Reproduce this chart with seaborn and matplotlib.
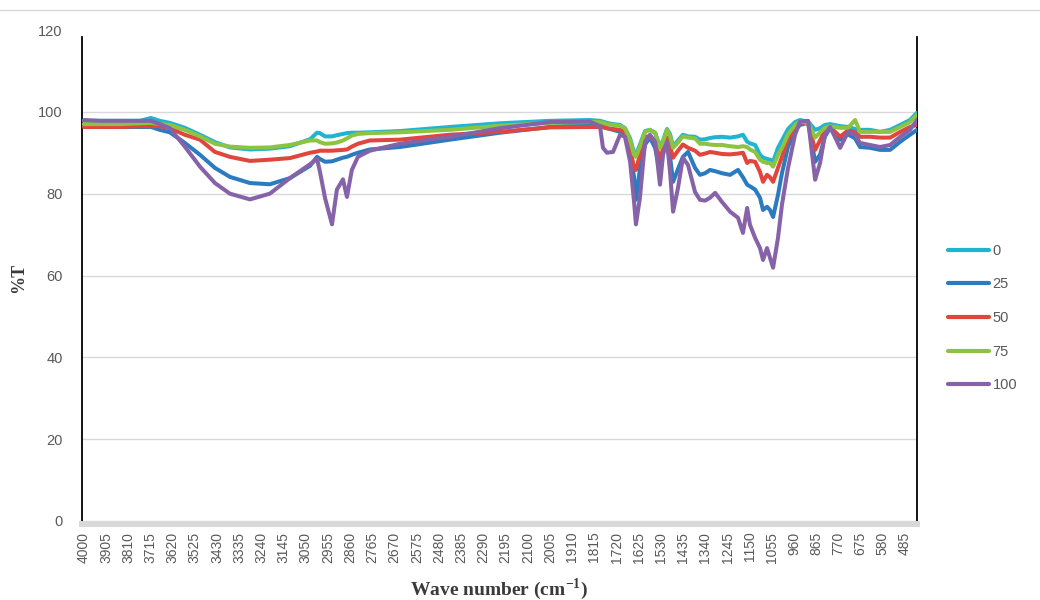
import matplotlib
matplotlib.use("Agg")
import matplotlib.pyplot as plt
from matplotlib.lines import Line2D
import pandas as pd
import seaborn as sns

# FTIR transmittance spectra (%T) for five blend ratios
wavenumber = [4000, 3932, 3846, 3760, 3713, 3675, 3632, 3568, 3503, 3439, 3375, 3289,
              3204, 3118, 3032, 3002, 2990, 2968, 2938, 2917, 2891, 2874, 2853, 2827,
              2776, 2647, 2433, 2219, 2005, 1834, 1791, 1778, 1761, 1735, 1705, 1684,
              1662, 1645, 1637, 1620, 1598, 1577, 1555, 1534, 1521, 1504, 1491, 1478,
              1457, 1436, 1414, 1384, 1363, 1341, 1320, 1298, 1269, 1234, 1200, 1179,
              1161, 1149, 1127, 1106, 1093, 1076, 1063, 1050, 1029, 1012, 986, 956,
              935, 900, 870, 849, 828, 806, 763, 729, 699, 678, 635, 592,
              549, 506, 464, 434]

t_0 = [97.8, 97.8, 97.8, 97.8, 98.5, 97.8, 97.3, 96.1, 94.4, 92.6, 91.3, 90.8,
       91.0, 91.6, 93.3, 94.9, 94.8, 94.0, 94.0, 94.3, 94.6, 94.8, 94.9, 94.9,
       95.0, 95.3, 96.3, 97.2, 97.8, 98.0, 97.8, 97.6, 97.3, 97.0, 96.8, 96.0,
       93.5, 90.0, 89.5, 92.0, 95.3, 95.6, 94.9, 91.5, 93.0, 95.8, 94.5, 91.5,
       93.0, 94.4, 94.0, 93.9, 93.2, 93.3, 93.6, 93.8, 93.9, 93.7, 94.0, 94.4,
       92.7, 92.3, 91.9, 89.5, 88.8, 88.5, 88.3, 87.8, 91.2, 93.0, 95.8, 97.5,
       98.0, 97.6, 95.6, 96.0, 96.8, 97.0, 96.5, 96.3, 95.8, 95.6, 95.6, 95.1,
       95.6, 96.8, 98.0, 99.8]

t_25 = [96.5, 96.3, 96.3, 96.3, 96.3, 95.6, 95.0, 92.4, 89.5, 86.3, 84.1, 82.6,
        82.3, 83.8, 86.8, 89.0, 88.5, 87.8, 87.9, 88.3, 88.8, 89.0, 89.5, 90.0,
        90.8, 91.4, 93.2, 94.9, 96.3, 97.0, 97.0, 96.5, 96.0, 95.6, 95.1, 94.5,
        90.5, 84.0, 78.5, 86.0, 92.0, 93.7, 91.2, 85.3, 90.5, 92.7, 89.0, 82.9,
        86.0, 89.0, 90.2, 86.3, 84.6, 85.0, 85.8, 85.5, 85.0, 84.6, 85.8, 84.0,
        82.2, 81.8, 81.0, 79.0, 76.0, 76.8, 76.0, 74.3, 79.7, 85.0, 91.5, 95.5,
        96.8, 97.3, 87.8, 89.5, 94.0, 96.0, 93.2, 94.5, 93.5, 91.4, 91.2, 90.7,
        90.7, 92.7, 94.4, 95.6]

t_50 = [96.3, 96.3, 96.3, 96.5, 96.5, 96.5, 96.0, 94.4, 93.2, 90.2, 89.0, 88.0,
        88.3, 88.7, 90.0, 90.3, 90.5, 90.5, 90.5, 90.6, 90.7, 90.8, 91.5, 92.2,
        93.0, 93.2, 94.4, 95.1, 96.2, 96.3, 96.3, 96.2, 96.0, 95.8, 95.6, 95.0,
        91.5, 86.0, 85.8, 89.5, 93.9, 94.0, 92.7, 88.3, 91.0, 93.7, 91.5, 88.8,
        90.5, 92.0, 91.2, 90.5, 89.5, 89.8, 90.2, 90.0, 89.7, 89.6, 89.8, 90.0,
        87.5, 88.0, 87.8, 85.3, 82.9, 84.6, 84.0, 82.9, 86.3, 89.0, 93.3, 96.0,
        97.3, 97.3, 90.7, 93.0, 95.6, 96.3, 93.9, 95.5, 95.0, 93.9, 93.9, 93.7,
        93.7, 95.1, 96.3, 96.8]

t_75 = [97.0, 97.0, 97.0, 97.2, 97.3, 97.0, 96.8, 95.6, 94.0, 92.2, 91.5, 91.2,
        91.3, 91.9, 93.0, 93.0, 92.6, 92.2, 92.3, 92.5, 93.0, 93.5, 94.2, 94.6,
        94.8, 95.0, 95.6, 96.6, 97.3, 97.5, 97.5, 97.3, 97.0, 96.8, 96.6, 96.0,
        93.0, 89.5, 89.0, 91.5, 95.1, 95.6, 94.9, 91.2, 92.7, 95.6, 94.0, 91.2,
        92.5, 94.0, 93.7, 93.5, 92.2, 92.2, 92.0, 91.9, 91.9, 91.6, 91.4, 91.6,
        91.4, 90.8, 90.2, 88.3, 87.8, 87.5, 87.5, 86.6, 89.5, 91.2, 94.5, 96.8,
        97.6, 97.3, 93.7, 95.0, 96.1, 96.5, 96.1, 96.1, 98.0, 95.1, 95.1, 95.1,
        95.1, 96.3, 97.5, 99.3]

t_100 = [98.0, 97.8, 97.8, 97.8, 97.8, 97.0, 96.0, 91.5, 86.6, 82.6, 80.0, 78.6,
         80.0, 83.8, 87.2, 88.5, 85.5, 79.0, 72.5, 81.0, 83.5, 79.2, 85.8, 89.0,
         90.5, 92.2, 93.9, 96.0, 97.5, 97.6, 96.5, 91.2, 90.0, 90.2, 94.4, 93.9,
         87.8, 78.0, 72.5, 79.0, 92.7, 94.4, 92.7, 82.2, 89.5, 92.7, 85.3, 75.6,
         81.4, 88.8, 87.0, 80.4, 78.5, 78.3, 79.0, 80.2, 78.0, 75.6, 74.1, 70.4,
         76.5, 72.4, 69.2, 66.7, 63.8, 66.7, 64.3, 61.9, 69.2, 77.3, 86.3, 94.4,
         97.6, 97.8, 83.4, 87.5, 94.4, 96.3, 91.2, 95.1, 94.4, 92.4, 91.9, 91.4,
         91.9, 93.9, 95.6, 98.0]

series_labels = ["0", "25", "50", "75", "100"]
series_colors = ["#1fb4d2", "#2b7bc0", "#e0463d", "#8cc341", "#8662a9"]
x_ticks = list(range(4000, 480, -95))
y_ticks = [0, 20, 40, 60, 80, 100, 120]

frames = []
for lab, vals in zip(series_labels, [t_0, t_25, t_50, t_75, t_100]):
    frames.append(pd.DataFrame({"wn": wavenumber, "T": vals, "series": lab}))
df = pd.concat(frames, ignore_index=True)

sns.set_theme(style="white")
plt.rcParams["font.family"] = ["Liberation Sans", "DejaVu Sans"]
plt.rcParams["mathtext.fontset"] = "custom"
plt.rcParams["mathtext.rm"] = "Liberation Serif"
plt.rcParams["mathtext.bf"] = "Liberation Serif:bold"

fig = plt.figure(figsize=(10.4, 6.0), dpi=100)
ax = fig.add_axes([82 / 1040, 1 - 521 / 600, 835 / 1040, 491 / 600])

sns.lineplot(data=df, x="wn", y="T", hue="series", hue_order=series_labels,
             palette=series_colors, estimator=None, sort=False,
             linewidth=2.9, ax=ax, zorder=3)

ax.set_xlim(4008, 434)
ax.set_ylim(0, 120)
ax.set_xticks(x_ticks)
ax.set_xticklabels([str(v) for v in x_ticks])
ax.set_yticks(y_ticks)

tick_grey = "#595959"
ax.tick_params(axis="x", length=0, pad=5.5, labelsize=10, labelcolor=tick_grey,
               labelrotation=90)
ax.tick_params(axis="y", length=0, pad=14, labelsize=10.5, labelcolor=tick_grey)

ax.yaxis.grid(True, color="#d9d9d9", linewidth=1.0, zorder=0)
ax.set_axisbelow(True)
ax.get_ygridlines()[-1].set_visible(False)

for side in ("left", "right"):
    ax.spines[side].set_color("black")
    ax.spines[side].set_linewidth(1.3)
    ax.spines[side].set_bounds(0, 118.3)
ax.spines["top"].set_visible(False)
ax.spines["bottom"].set_color("#d9d9d9")
ax.spines["bottom"].set_linewidth(4.3)
ax.spines["bottom"].set_position(("outward", 2.2))

ax.set_ylabel("%T", fontfamily="Liberation Serif", fontweight="bold",
              fontsize=13, color="#3a3a3a")
ax.yaxis.set_label_coords(-0.066, 0.495)
ax.set_xlabel(r"Wave number (cm$^{\mathbf{-1}}$)", fontfamily="Liberation Serif",
              fontweight="bold", fontsize=14, color="#3a3a3a")
ax.xaxis.set_label_coords(0.4994, -0.112)

handles, labels = ax.get_legend_handles_labels()
ax.legend_.remove()
leg = fig.legend(handles, labels, loc="center left",
                 bbox_to_anchor=(935 / 1040, 1 - 318 / 600),
                 frameon=False, handlelength=2.8, handletextpad=0.25,
                 labelspacing=1.35, fontsize=10.5)
for txt in leg.get_texts():
    txt.set_color(tick_grey)
for ln in leg.get_lines():
    ln.set_linewidth(3.0)

# thin chart border across the top
fig.add_artist(Line2D([0, 1], [1 - 9.5 / 600, 1 - 9.5 / 600],
                      color="#d9d9d9", linewidth=1.0))

fig.savefig("out.png", dpi=100, facecolor="white")
